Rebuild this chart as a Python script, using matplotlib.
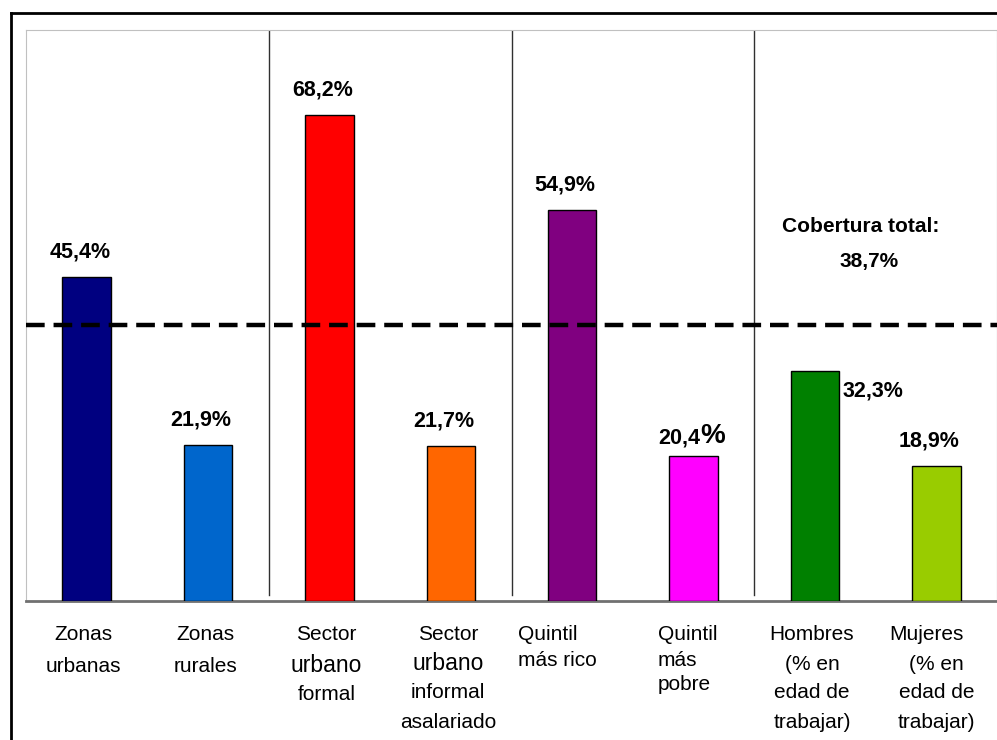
import matplotlib
matplotlib.use('Agg')
import matplotlib.pyplot as plt
from matplotlib.lines import Line2D

plt.rcParams['font.family'] = ['Liberation Sans', 'DejaVu Sans']

# coverage by group (%)
categories = [
    ['Zonas', 'urbanas'],
    ['Zonas', 'rurales'],
    ['Sector', 'urbano', 'formal'],
    ['Sector', 'urbano', 'informal', 'asalariado'],
    ['Quintil', 'más rico'],
    ['Quintil', 'más', 'pobre'],
    ['Hombres', '(% en', 'edad de', 'trabajar)'],
    ['Mujeres', '(% en', 'edad de', 'trabajar)'],
]
values = [45.4, 21.9, 68.2, 21.7, 54.9, 20.4, 32.3, 18.9]
value_labels = ['45,4%', '21,9%', '68,2%', '21,7%', '54,9%', '20,4', '32,3%', '18,9%']
total_value = 38.7
total_label = ['Cobertura total:', '38,7%']

colors = ['#000080', '#0066CC', '#FF0000', '#FF6600',
          '#800080', '#FF00FF', '#008000', '#99CC00']

fig = plt.figure(figsize=(9.97, 7.4), dpi=100)
ax = fig.add_axes([26 / 997, 1 - 601 / 740, 971 / 997, 571 / 740])

x = list(range(len(values)))
ax.bar(x, values, width=0.40, color=colors, edgecolor='black', linewidth=1, zorder=3)

ax.set_xlim(-0.5, len(values) - 0.5)
ax.set_ylim(0, 80.1)
ax.set_xticks([])
ax.set_yticks([])
ax.spines['left'].set_color('#c0c0c0')
ax.spines['top'].set_color('#c0c0c0')
ax.spines['right'].set_color('#808080')
ax.spines['bottom'].set_color('#707070')
ax.spines['bottom'].set_linewidth(2)

# group separators
for sx in [1.5, 3.5, 5.5]:
    ax.plot([sx, sx], [0.8, 80.1], color='#303030', lw=1, zorder=2)

# total coverage line
ax.axhline(total_value, color='black', lw=3.2, dashes=(4.2, 2.0), zorder=4)
ax.text(5.73, 52.5, total_label[0], ha='left', va='center',
        fontsize=15, fontweight='bold')
ax.text(6.45, 47.6, total_label[1], ha='center', va='center',
        fontsize=15, fontweight='bold')

# value labels
for i, (v, lab) in enumerate(zip(values, value_labels)):
    if i == 6:
        ax.annotate(lab, (i + 0.2, v), textcoords='offset pixels', xytext=(3, -20),
                    ha='left', va='center', fontsize=15.5, fontweight='bold')
    elif i == 5:
        ax.annotate(lab, (i, v), textcoords='offset pixels', xytext=(-14, 18),
                    ha='center', va='center', fontsize=15.5, fontweight='bold')
        ax.annotate('%', (i, v), textcoords='offset pixels', xytext=(19, 20),
                    ha='center', va='center', fontsize=20, fontweight='bold')
    else:
        ax.annotate(lab, (i, v), textcoords='offset pixels', xytext=(-7, 25),
                    ha='center', va='center', fontsize=15.5, fontweight='bold')

# category labels, one line at a time
line_gap = [31, 31, 30, 29, 25, 25, 29, 29]
for i, lines in enumerate(categories):
    for k, line in enumerate(lines):
        size = 16.5 if line == 'urbano' else 15
        if i in (4, 5):
            ha, dx = 'left', (-54 if i == 4 else -36)
        else:
            ha, dx = 'center', -3
            if i == 7:
                dx = -10 if k == 0 else 0
        ax.annotate(line, (i, 0), textcoords='offset pixels',
                    xytext=(dx, -34 - k * line_gap[i]), ha=ha, va='center',
                    fontsize=size, annotation_clip=False)

# outer frame
fig.add_artist(Line2D([11 / 997, 11 / 997], [0, 1 - 13 / 740],
                      transform=fig.transFigure, color='black', lw=2))
fig.add_artist(Line2D([11 / 997, 1], [1 - 13 / 740, 1 - 13 / 740],
                      transform=fig.transFigure, color='black', lw=2))

fig.savefig('out.png', dpi=100)
